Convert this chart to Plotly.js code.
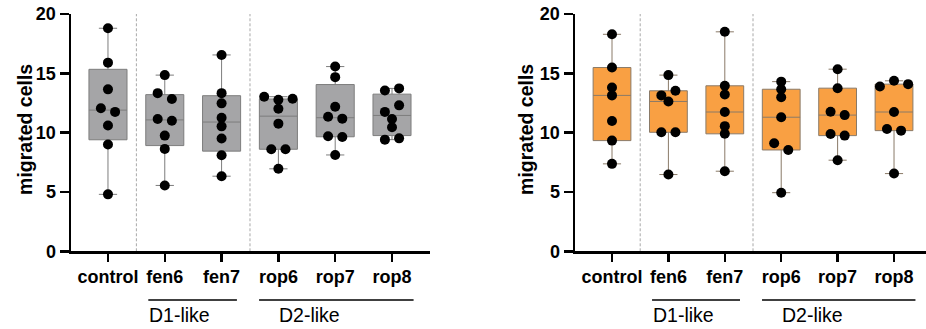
<!DOCTYPE html>
<html>
<head>
<meta charset="utf-8">
<script src="https://cdn.plot.ly/plotly-3.0.1.min.js"></script>
<style>html,body{margin:0;padding:0;background:#fff;}#chart{width:926px;height:329px;}</style>
</head>
<body>
<div id="chart"></div>
<script>
// ---- data ----
const categories = ['control', 'fen6', 'fen7', 'rop6', 'rop7', 'rop8'];
const yTicks = [0, 5, 10, 15, 20];
const groupNames = ['D1-like', 'D2-like'];

// left panel (grey)
const leftControl = [18.8, 15.9, 13.65, 12.05, 11.75, 10.6, 9.0, 4.8];
const leftFen6    = [14.85, 13.33, 12.83, 11.15, 11.0, 9.75, 8.63, 5.55];
const leftFen7    = [16.55, 13.33, 12.47, 11.26, 10.53, 9.5, 8.09, 6.33];
const leftRop6    = [13.03, 12.77, 12.86, 12.02, 10.76, 8.6, 8.6, 6.95];
const leftRop7    = [15.57, 14.68, 12.18, 11.34, 11.18, 9.69, 9.64, 8.12];
const leftRop8    = [13.56, 13.73, 11.75, 12.3, 11.15, 10.45, 9.41, 9.52];

// right panel (orange)
const rightControl = [18.29, 15.49, 13.81, 13.14, 10.98, 9.33, 7.37];
const rightFen6    = [14.85, 13.14, 13.53, 12.63, 10.03, 10.03, 6.47];
const rightFen7    = [18.5, 13.95, 13.22, 11.74, 10.55, 9.9, 6.75];
const rightRop6    = [14.3, 13.66, 12.98, 11.3, 9.1, 8.54, 4.94];
const rightRop7    = [15.35, 13.75, 11.76, 11.48, 9.89, 9.75, 7.68];
const rightRop8    = [13.89, 14.37, 14.09, 11.74, 10.31, 10.17, 6.55];

const leftSets  = [leftControl, leftFen6, leftFen7, leftRop6, leftRop7, leftRop8];
const rightSets = [rightControl, rightFen6, rightFen7, rightRop6, rightRop7, rightRop8];

// ---- helpers ----
function quant(sorted, p) {
  const n = sorted.length;
  const pos = (n + 1) * p;
  if (pos <= 1) return sorted[0];
  if (pos >= n) return sorted[n - 1];
  const lo = Math.floor(pos), f = pos - lo;
  return sorted[lo - 1] + f * (sorted[lo] - sorted[lo - 1]);
}
function stats(sets) {
  const s = {q1: [], median: [], q3: [], lowerfence: [], upperfence: []};
  sets.forEach(v => {
    const a = v.slice().sort((x, y) => x - y);
    s.q1.push(quant(a, 0.25));
    s.median.push(quant(a, 0.5));
    s.q3.push(quant(a, 0.75));
    s.lowerfence.push(a[0]);
    s.upperfence.push(a[a.length - 1]);
  });
  return s;
}
const THR = 0.6, STEP = 0.25;
function swarm(sets) {
  const xs = [], ys = [];
  sets.forEach((vals, c) => {
    const order = vals.map((v, i) => i).sort((a, b) => vals[b] - vals[a] || a - b);
    const groups = [];
    let cur = null;
    order.forEach(i => {
      if (cur && vals[cur.start] - vals[i] < THR) cur.members.push(i);
      else { cur = {start: i, members: [i]}; groups.push(cur); }
    });
    groups.forEach(g => {
      const m = g.members.slice().sort((a, b) => a - b);
      m.forEach((i, k) => {
        xs.push(c + (k - (m.length - 1) / 2) * STEP);
        ys.push(vals[i]);
      });
    });
  });
  return {x: xs, y: ys};
}

const catIdx = categories.map((c, i) => i);
const FONT = 'Liberation Sans, Arial, sans-serif';

function boxTrace(sets, fill, line, xa, ya) {
  const s = stats(sets);
  return {
    type: 'box', x: catIdx, q1: s.q1, median: s.median, q3: s.q3,
    lowerfence: s.lowerfence, upperfence: s.upperfence,
    width: 0.67, whiskerwidth: 0.48, boxpoints: false,
    fillcolor: fill, line: {color: line, width: 1},
    xaxis: xa, yaxis: ya, showlegend: false, hoverinfo: 'skip'
  };
}
function ptTrace(sets, xa, ya) {
  const p = swarm(sets);
  return {
    type: 'scatter', mode: 'markers', x: p.x, y: p.y,
    marker: {color: '#000', size: 10}, cliponaxis: false,
    xaxis: xa, yaxis: ya, showlegend: false, hoverinfo: 'skip'
  };
}

const data = [
  boxTrace(leftSets, '#a5a5a7', '#7d7d7d', 'x', 'y'),
  ptTrace(leftSets, 'x', 'y'),
  boxTrace(rightSets, '#f9a043', '#8a7a68', 'x2', 'y2'),
  ptTrace(rightSets, 'x2', 'y2')
];

function xAxis(domain, range, anchor) {
  return {
    domain: domain, range: range, anchor: anchor,
    tickmode: 'array', tickvals: catIdx, ticktext: categories,
    ticks: 'outside', ticklen: 8, tickwidth: 2.5, tickcolor: '#000',
    showline: true, linewidth: 2.5, linecolor: '#000',
    showgrid: false, zeroline: false,
    tickfont: {family: FONT, size: 18, weight: 700, color: '#000'}
  };
}
function yAxis(domain, anchor) {
  return {
    domain: domain, range: [0, 20], anchor: anchor,
    tickmode: 'array', tickvals: yTicks, ticktext: yTicks.map(String),
    ticks: 'outside', ticklen: 9, tickwidth: 2.5, tickcolor: '#000',
    showline: true, linewidth: 2.5, linecolor: '#000',
    showgrid: false, zeroline: false,
    tickfont: {family: FONT, size: 18, weight: 700, color: '#000'}
  };
}

const yDom = [0.2362, 0.9574];
const shapes = [];
const annotations = [];
[['x', 'y'], ['x2', 'y2']].forEach(([xa, ya], pi) => {
  [0.5, 2.5].forEach(xv => shapes.push({
    type: 'line', xref: xa, yref: ya, x0: xv, x1: xv, y0: 0, y1: 20,
    line: {color: '#a8a8a8', width: 1, dash: '3px,2px'}, layer: 'below'
  }));
  // group underline bars
  shapes.push({type: 'line', xref: xa, yref: 'paper', x0: 0.71, x1: 2.27, y0: 0.0881, y1: 0.0881,
    line: {color: '#000', width: 1.5}});
  shapes.push({type: 'line', xref: xa, yref: 'paper', x0: 2.66, x1: 5.38, y0: 0.0881, y1: 0.0881,
    line: {color: '#000', width: 1.5}});
  annotations.push({xref: xa, yref: 'paper', x: 1.26, y: 0.043, text: groupNames[0], showarrow: false,
    xanchor: 'center', yanchor: 'middle', font: {family: FONT, size: 19.5, color: '#000'}});
  annotations.push({xref: xa, yref: 'paper', x: 3.55, y: 0.043, text: groupNames[1], showarrow: false,
    xanchor: 'center', yanchor: 'middle', font: {family: FONT, size: 19.5, color: '#000'}});
});
annotations.push({xref: 'paper', yref: 'paper', x: 25 / 926, y: 0.605, text: 'migrated cells', textangle: -90,
  showarrow: false, xanchor: 'center', yanchor: 'middle', font: {family: FONT, size: 19.5, weight: 700, color: '#000'}});
annotations.push({xref: 'paper', yref: 'paper', x: 526 / 926, y: 0.605, text: 'migrated cells', textangle: -90,
  showarrow: false, xanchor: 'center', yanchor: 'middle', font: {family: FONT, size: 19.5, weight: 700, color: '#000'}});

const layout = {
  width: 926, height: 329,
  margin: {l: 0, r: 0, t: 0, b: 0},
  paper_bgcolor: '#fff', plot_bgcolor: 'rgba(0,0,0,0)',
  font: {family: FONT, color: '#000'},
  showlegend: false,
  xaxis: xAxis([71 / 926, 430 / 926], [-0.651, 5.669], 'y'),
  yaxis: yAxis(yDom, 'x'),
  xaxis2: xAxis([575 / 926, 1], [-0.656, 5.567], 'y2'),
  yaxis2: yAxis(yDom, 'x2'),
  shapes: shapes,
  annotations: annotations
};

Plotly.newPlot('chart', data, layout, {staticPlot: true, displayModeBar: false});
</script>
</body>
</html>
